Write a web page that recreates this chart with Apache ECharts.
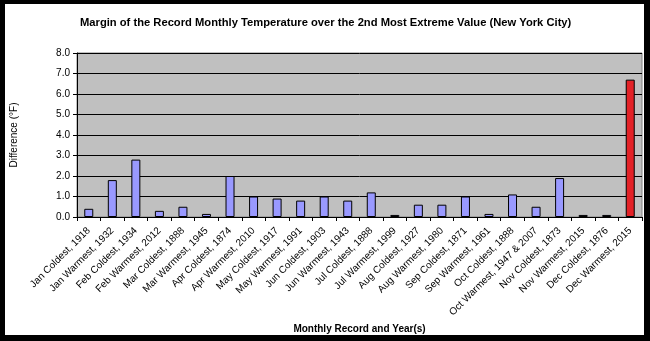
<!DOCTYPE html>
<html>
<head>
<meta charset="utf-8">
<script src="https://cdn.jsdelivr.net/npm/echarts@6/dist/echarts.min.js"></script>
<style>
html,body{margin:0;padding:0;background:#fff;}
#chart{width:650px;height:341px;}
</style>
</head>
<body>
<div id="chart"></div>
<script>
const categories = [
  "Jan Coldest, 1918", "Jan Warmest, 1932", "Feb Coldest, 1934", "Feb Warmest, 2012",
  "Mar Coldest, 1888", "Mar Warmest, 1945", "Apr Coldest, 1874", "Apr Warmest, 2010",
  "May Coldest, 1917", "May Warmest, 1991", "Jun Coldest, 1903", "Jun Warmest, 1943",
  "Jul Coldest, 1888", "Jul Warmest, 1999", "Aug Coldest, 1927", "Aug Warmest, 1980",
  "Sep Coldest, 1871", "Sep Warmest, 1961", "Oct Coldest, 1888", "Oct Warmest, 1947 & 2007",
  "Nov Coldest, 1873", "Nov Warmest, 2015", "Dec Coldest, 1876", "Dec Warmest, 2015"
];
const differences = [
  0.4, 1.8, 2.8, 0.3,
  0.5, 0.15, 2.0, 1.0,
  0.9, 0.8, 1.0, 0.8,
  1.2, 0.1, 0.6, 0.6,
  1.0, 0.15, 1.1, 0.5,
  1.9, 0.1, 0.1, 6.7
];
const highlighted = ["Dec Warmest, 2015"];
const yTicks = [0, 1, 2, 3, 4, 5, 6, 7, 8];

const chart = echarts.init(document.getElementById('chart'));
const font = 'Liberation Sans, Arial, sans-serif';
chart.setOption({
  animation: false,
  backgroundColor: '#ffffff',
  title: {
    text: 'Margin of the Record Monthly Temperature over the 2nd Most Extreme Value (New York City)',
    left: 75, top: 12,
    textStyle: {fontFamily: font, fontSize: 11.2, fontWeight: 'bold', color: '#000'}
  },
  graphic: [
    {type: 'rect', shape: {x: 0, y: 0, width: 650, height: 4}, style: {fill: '#000'}, silent: true},
    {type: 'rect', shape: {x: 0, y: 335, width: 650, height: 6}, style: {fill: '#000'}, silent: true},
    {type: 'rect', shape: {x: 0, y: 0, width: 5, height: 341}, style: {fill: '#000'}, silent: true},
    {type: 'rect', shape: {x: 644, y: 0, width: 6, height: 341}, style: {fill: '#000'}, silent: true}
  ],
  grid: {left: 77, right: 8, top: 53, bottom: 124, show: true, backgroundColor: '#C0C0C0', borderColor: '#808080', borderWidth: 1},
  xAxis: {
    type: 'category',
    data: categories,
    name: 'Monthly Record and Year(s)',
    nameLocation: 'middle',
    nameGap: 107,
    nameTextStyle: {fontFamily: font, fontSize: 10, fontWeight: 'bold', color: '#000'},
    axisLine: {lineStyle: {color: '#000', width: 1}},
    axisTick: {show: true, length: 4, lineStyle: {color: '#000'}, interval: 0},
    axisLabel: {interval: 0, rotate: 45, fontFamily: font, fontSize: 10, color: '#000', margin: 12},
    splitLine: {show: false}
  },
  yAxis: {
    type: 'value',
    min: yTicks[0], max: yTicks[yTicks.length - 1], interval: 1,
    name: 'Difference (°F)',
    nameLocation: 'middle',
    nameGap: 58,
    nameTextStyle: {fontFamily: font, fontSize: 10, color: '#000'},
    axisLine: {show: true, lineStyle: {color: '#000', width: 1}},
    axisTick: {show: true, length: 4, lineStyle: {color: '#000'}},
    axisLabel: {fontFamily: font, fontSize: 10, color: '#000', margin: 7, formatter: v => v.toFixed(1)},
    splitLine: {show: true, lineStyle: {color: '#000', width: 1}}
  },
  series: [{
    type: 'bar',
    data: differences,
    barWidth: 9,
    itemStyle: {
      color: p => highlighted.includes(categories[p.dataIndex]) ? '#E32227' : '#9999FF',
      borderColor: '#000', borderWidth: 1
    }
  }]
});
</script>
</body>
</html>
